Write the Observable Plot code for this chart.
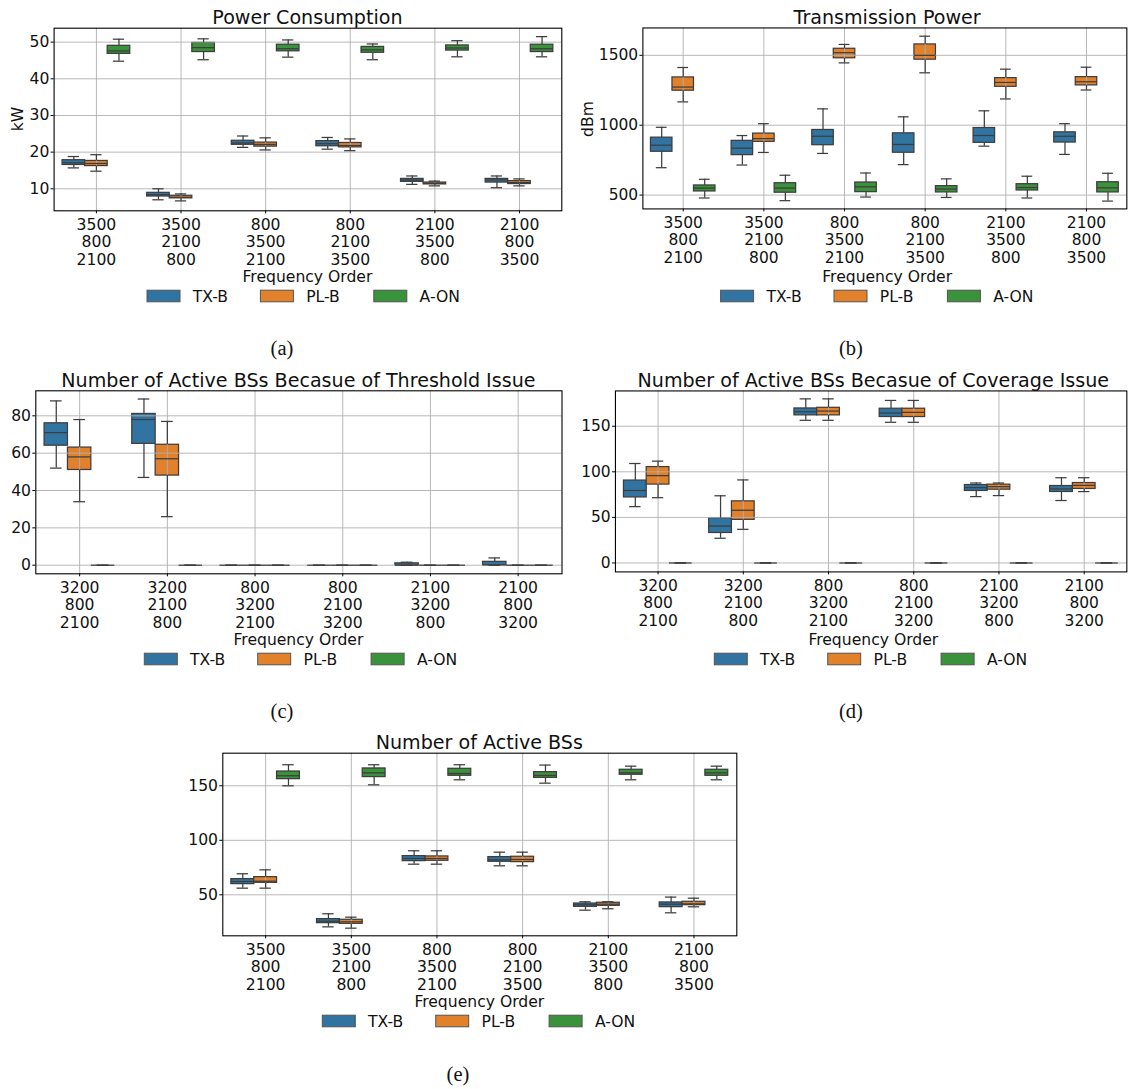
<!DOCTYPE html>
<html>
<head>
<meta charset="utf-8">
<script src="https://cdn.jsdelivr.net/npm/d3@7"></script>
<script src="https://cdn.jsdelivr.net/npm/@observablehq/plot@0.6"></script>
<style>
  html, body { margin: 0; padding: 0; background: #fff; }
  #page { position: relative; width: 1130px; height: 1089px; overflow: hidden; background: #fff; }
  .panel { position: absolute; }
  #overlay { position: absolute; left: 0; top: 0; pointer-events: none; }
</style>
</head>
<body>
<div id="page">
  <div class="panel" id="pa"></div>
  <div class="panel" id="pb"></div>
  <div class="panel" id="pc"></div>
  <div class="panel" id="pd"></div>
  <div class="panel" id="pe"></div>
</div>
<script>
// ---------- data ----------
const seriesNames = ["TX-B", "PL-B", "A-ON"];
const seriesColors = ["#3274a1", "#e1812c", "#3a923a"];

const ordersBands3500 = ["3500\n800\n2100", "3500\n2100\n800", "800\n3500\n2100", "800\n2100\n3500", "2100\n3500\n800", "2100\n800\n3500"];
const ordersBands3200 = ["3200\n800\n2100", "3200\n2100\n800", "800\n3200\n2100", "800\n2100\n3200", "2100\n3200\n800", "2100\n800\n3200"];

// each entry: [whisker low, q1, median, q3, whisker high]
const powerTXB = [[15.7,16.5,17.1,17.8,18.8],[7.0,7.9,8.4,8.9,10.0],[21.3,22.0,22.5,23.1,24.4],[20.8,21.6,22.3,23.0,24.0],[11.2,11.9,12.4,12.7,13.5],[10.3,11.7,12.4,12.7,13.5]];
const powerPLB = [[14.8,16.2,16.9,17.6,19.3],[6.7,7.4,7.7,8.1,8.6],[20.6,21.5,22.1,22.6,23.9],[20.4,21.3,21.8,22.5,23.6],[10.8,11.2,11.5,11.7,12.1],[10.8,11.3,11.7,12.1,12.7]];
const powerAON = [[44.8,46.8,47.6,49.0,50.8],[45.2,47.3,48.5,49.8,50.9],[45.9,47.5,48.2,49.3,50.6],[45.2,47.1,47.9,48.7,49.5],[46.0,47.7,48.4,49.1,50.4],[46.0,47.3,48.2,49.3,51.5]];

const txpTXB = [[696,810,857,911,985],[715,786,836,888,926],[798,857,921,966,1117],[718,803,862,942,1060],[850,874,926,980,1103],[791,876,921,949,1011]];
const txpPLB = [[1167,1247,1273,1342,1413],[805,881,904,940,1011],[1446,1479,1519,1547,1578],[1375,1469,1500,1578,1637],[1188,1275,1306,1337,1401],[1252,1285,1311,1344,1415]];
const txpAON = [[479,526,550,569,613],[460,517,550,585,642],[486,521,559,590,658],[483,519,543,564,616],[479,533,554,578,635],[457,519,552,592,656]];

const thrTXB = [[52,64,71,76,88],[47,65,78,81,89],[0,0,0,0,0],[0,0,0,0,0],[0,0,0,1,1.6],[0,0,0.2,1.8,3.9]];
const thrPLB = [[34,51,58,63,78],[26,48,57,64.5,77],[0,0,0,0,0],[0,0,0,0,0],[0,0,0,0,0],[0,0,0,0,0]];
const thrAON = [[0,0,0,0,0],[0,0,0,0,0],[0,0,0,0,0],[0,0,0,0,0],[0,0,0,0,0],[0,0,0,0,0]];

const covTXB = [[61.8,71.9,79.5,90.4,109.1],[27.1,32.9,40.5,49.2,73.7],[156.5,161.9,165.9,169.5,180.0],[154.3,160.1,164.5,169.2,178.3],[72.8,79.0,82.6,85.5,87.7],[68.5,77.9,81.2,84.4,93.5]];
const covPLB = [[71.6,86.0,95.8,105.2,111.7],[36.9,47.3,57.8,67.6,91.1],[156.5,161.9,166.6,170.2,180.0],[154.3,160.1,165.2,169.2,178.3],[73.9,80.4,83.7,85.9,87.7],[78.3,81.2,85.1,87.7,93.5]];
const covAON = [[0,0,0,0,0],[0,0,0,0,0],[0,0,0,0,0],[0,0,0,0,0],[0,0,0,0,0],[0,0,0,0,0]];

const actTXB = [[56.1,59.8,62.2,64.4,69.3],[20.6,24.0,25.8,27.7,32.6],[78.1,80.9,83.3,85.5,90.4],[76.6,80.3,82.1,84.6,89.1],[35.9,39.0,40.8,42.0,43.6],[33.5,38.7,41.4,43.0,47.9]];
const actPLB = [[56.1,61.0,62.5,66.2,72.9],[19.4,23.4,25.2,27.1,29.5],[78.1,81.2,83.3,85.2,90.4],[76.6,80.0,82.4,84.9,89.1],[37.2,39.9,41.4,42.7,43.6],[39.0,40.5,41.7,43.6,46.9]];
const actAON = [[150.0,156.1,159.2,163.1,169.3],[150.9,158.0,161.9,165.9,169.3],[155.5,159.2,161.3,165.6,169.3],[152.4,157.3,159.5,162.5,169.0],[155.5,160.1,161.9,164.7,168.0],[155.5,159.2,161.9,164.7,168.0]];

const ticksPower = [10, 20, 30, 40, 50];
const ticksTxp = [500, 1000, 1500];
const ticksThr = [0, 20, 40, 60, 80];
const ticksCov = [0, 50, 100, 150];
const ticksAct = [50, 100, 150];

const titles = ["Power Consumption", "Transmission Power", "Number of Active BSs Becasue of Threshold Issue", "Number of Active BSs Becasue of Coverage Issue", "Number of Active BSs"];
const yLabels = ["kW", "dBm", "", "", ""];
const xLabel = "Frequency Order";
const captions = ["(a)", "(b)", "(c)", "(d)", "(e)"];

// ---------- build ----------
function rows(txb, plb, aon) {
  const out = [];
  [txb, plb, aon].forEach((arr, si) => arr.forEach((v, i) => out.push({
    i, s: seriesNames[si], lo: v[0], q1: v[1], med: v[2], q3: v[3], hi: v[4]
  })));
  return out;
}

const FONT = "DejaVu Sans";
const FS = 15.6;
const LINE = "#3d3d3d";
const GRID = "#b0b0b0";
const dodge = {"TX-B": -0.8 / 3, "PL-B": 0, "A-ON": 0.8 / 3};
const hw = 0.8 / 6, cw = 0.8 / 12;
const cx = d => d.i + dodge[d.s];

function panel(el, g, data, orders, yDomain, yTicks) {
  const W = g.W, H = g.H;
  const chart = Plot.plot({
    width: W, height: H,
    marginLeft: g.L - g.px, marginRight: g.px + W - g.R,
    marginTop: g.T - g.py, marginBottom: g.py + H - g.B,
    x: {domain: [-0.5, 5.5], axis: null},
    y: {domain: yDomain, axis: null},
    color: {domain: seriesNames, range: seriesColors},
    style: {fontFamily: FONT, fontSize: FS + "px", color: "#111", background: "transparent", overflow: "visible"},
    marks: [
      Plot.rect(data, {x1: d => cx(d) - hw, x2: d => cx(d) + hw, y1: "q1", y2: "q3", fill: "s", stroke: LINE, strokeWidth: 1.25}),
      Plot.gridX({ticks: d3.range(6), stroke: GRID, strokeOpacity: 1, strokeWidth: 0.9}),
      Plot.gridY({ticks: yTicks, stroke: GRID, strokeOpacity: 1, strokeWidth: 0.9}),
      Plot.ruleX(data, {x: cx, y1: "lo", y2: "q1", stroke: LINE, strokeWidth: 1.25}),
      Plot.ruleX(data, {x: cx, y1: "q3", y2: "hi", stroke: LINE, strokeWidth: 1.25}),
      Plot.ruleY(data, {y: "lo", x1: d => cx(d) - cw, x2: d => cx(d) + cw, stroke: LINE, strokeWidth: 1.25}),
      Plot.ruleY(data, {y: "hi", x1: d => cx(d) - cw, x2: d => cx(d) + cw, stroke: LINE, strokeWidth: 1.25}),
      Plot.ruleY(data, {y: "med", x1: d => cx(d) - hw, x2: d => cx(d) + hw, stroke: LINE, strokeWidth: 1.25}),
      Plot.frame({stroke: "#000", strokeWidth: 1.1}),
      Plot.axisX({ticks: d3.range(6), tickFormat: i => orders[i], tickSize: 3, tickPadding: 3.5, fontSize: FS, lineHeight: 1.13, label: null, stroke: "#000"}),
      Plot.axisY({ticks: yTicks, tickFormat: d => String(d), tickSize: 3, tickPadding: 1.8, fontSize: FS, label: null, stroke: "#000"})
    ]
  });
  const box = document.getElementById(el);
  box.style.left = g.px + "px";
  box.style.top = g.py + "px";
  box.appendChild(chart);
}

const geo = [
  {px: 0,   py: 0,   W: 565, H: 285, L: 53.6,  R: 561.3,  T: 27.7,  B: 210.3, legendX: 147,   capX: 282, capY: 349},
  {px: 575, py: 0,   W: 560, H: 285, L: 643,   R: 1131.3, T: 27.7,  B: 210.3, legendX: 720.6, capX: 851, capY: 349},
  {px: 0,   py: 362, W: 565, H: 285, L: 35.3,  R: 561.5,  T: 390.3, B: 573.3, legendX: 144.3, capX: 282, capY: 712},
  {px: 575, py: 362, W: 560, H: 285, L: 615.3, R: 1131.3, T: 390.7, B: 573.3, legendX: 714.3, capX: 851, capY: 712},
  {px: 180, py: 725, W: 565, H: 285, L: 222.3, R: 736.3,  T: 752.7, B: 935.3, legendX: 322.3, capX: 458, capY: 1075}
];

panel("pa", geo[0], rows(powerTXB, powerPLB, powerAON), ordersBands3500, [4.0, 53.8], ticksPower);
panel("pb", geo[1], rows(txpTXB, txpPLB, txpAON), ordersBands3500, [401, 1696], ticksTxp);
panel("pc", geo[2], rows(thrTXB, thrPLB, thrAON), ordersBands3200, [-4.6, 93.4], ticksThr);
panel("pd", geo[3], rows(covTXB, covPLB, covAON), ordersBands3200, [-9.8, 188.7], ticksCov);
panel("pe", geo[4], rows(actTXB, actPLB, actAON), ordersBands3500, [12.4, 179.9], ticksAct);

// ---------- text overlay: titles, axis labels, legends, captions ----------
const svg = d3.select("#page").append("svg")
  .attr("id", "overlay").attr("width", 1130).attr("height", 1089)
  .style("font-family", FONT).style("fill", "#111");

geo.forEach((g, k) => {
  const mid = (g.L + g.R) / 2;
  svg.append("text").attr("x", mid).attr("y", g.T - 3.6)
    .attr("text-anchor", "middle").attr("font-size", 19.1).text(titles[k]);
  svg.append("text").attr("x", mid).attr("y", g.B + 72)
    .attr("text-anchor", "middle").attr("font-size", FS).text(xLabel);
  if (yLabels[k]) {
    const bx = k === 0 ? 23.3 : 593;
    svg.append("text").attr("transform", `translate(${bx},${(g.T + g.B) / 2}) rotate(-90)`)
      .attr("text-anchor", "middle").attr("font-size", FS).text(yLabels[k]);
  }
  const ly = g.B + 85.7;
  seriesNames.forEach((s, j) => {
    const x0 = g.legendX + j * 113.4;
    svg.append("rect").attr("x", x0).attr("y", ly - 5.8).attr("width", 33).attr("height", 11.6)
      .attr("fill", seriesColors[j]).attr("stroke", "#555").attr("stroke-width", 1);
    svg.append("text").attr("x", x0 + 45.8).attr("y", ly + 5.7)
      .attr("font-size", FS).text(s);
  });
  svg.append("text").attr("x", g.capX).attr("y", g.capY + 5.5)
    .attr("text-anchor", "middle").attr("font-size", 20.5)
    .style("font-family", "'Liberation Serif', serif").text(captions[k]);
});
</script>
</body>
</html>
